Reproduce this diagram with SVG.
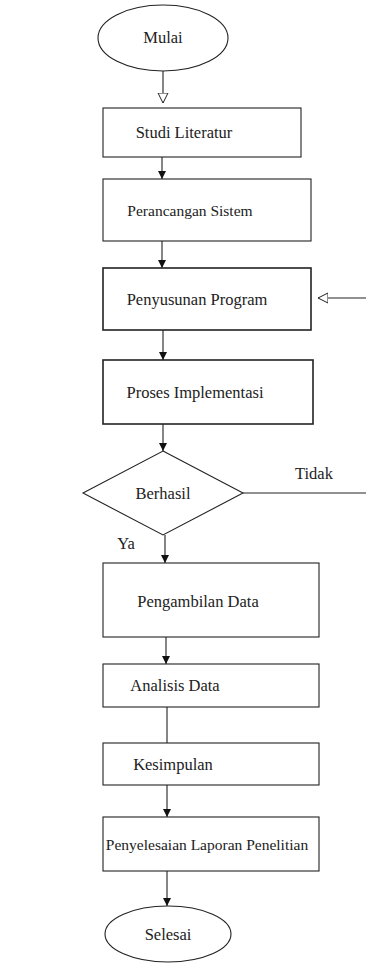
<svg xmlns="http://www.w3.org/2000/svg" width="366" height="965" viewBox="0 0 366 965">
<style>
.box{fill:#fff;stroke:#222;stroke-width:1.1}
.bold{stroke-width:1.6}
.t{font-family:"Liberation Serif","Times New Roman",serif;font-size:16.5px;fill:#222;text-anchor:middle}
.s{font-size:15.5px}
.ln{fill:none;stroke:#222;stroke-width:1.1}
</style>
<defs>
<marker id="a" markerWidth="10" markerHeight="10" refX="8" refY="5" orient="auto" markerUnits="userSpaceOnUse">
<path d="M0,1 L8,5 L0,9 Z" fill="#111"/>
</marker>
<marker id="h" markerWidth="12" markerHeight="12" refX="10" refY="6" orient="auto" markerUnits="userSpaceOnUse">
<path d="M0,1 L10,6 L0,11 Z" fill="#fff" stroke="#222" stroke-width="1"/>
</marker>
</defs>
<rect width="366" height="965" fill="#fff"/>
<g id="connectors">
<line class="ln" x1="163" y1="71" x2="163" y2="103" marker-end="url(#h)"/>
<line class="ln" x1="162" y1="157" x2="162" y2="179" marker-end="url(#a)"/>
<line class="ln" x1="162" y1="241" x2="162" y2="268" marker-end="url(#a)"/>
<line class="ln" x1="366" y1="298" x2="318" y2="298" marker-end="url(#h)"/>
<line class="ln" x1="163" y1="330" x2="163" y2="360" marker-end="url(#a)"/>
<line class="ln" x1="163" y1="424" x2="163" y2="451" marker-end="url(#a)"/>
<line class="ln" x1="243" y1="493" x2="366" y2="493"/>
<line class="ln" x1="165" y1="535" x2="165" y2="563" marker-end="url(#a)"/>
<line class="ln" x1="166" y1="637" x2="166" y2="664" marker-end="url(#a)"/>
<line class="ln" x1="167" y1="707" x2="167" y2="743"/>
<line class="ln" x1="167" y1="785" x2="167" y2="817" stroke-width="2" marker-end="url(#a)"/>
<line class="ln" x1="167" y1="871" x2="167" y2="906" marker-end="url(#a)"/>
<text class="t" x="314" y="479">Tidak</text>
<text class="t" x="126" y="549">Ya</text>
</g>
<g id="mulai">
<ellipse class="box" cx="163" cy="38" rx="65" ry="33"/>
<text class="t" x="163" y="43">Mulai</text>
</g>
<g id="studi">
<rect class="box" x="103" y="108" width="198" height="49"/>
<text class="t" x="184" y="138">Studi Literatur</text>
</g>
<g id="perancangan">
<rect class="box" x="103" y="179" width="208" height="62"/>
<text class="t s" x="190" y="216">Perancangan Sistem</text>
</g>
<g id="penyusunan">
<rect class="box bold" x="103" y="268" width="208" height="62"/>
<text class="t" x="197" y="305">Penyusunan Program</text>
</g>
<g id="proses">
<rect class="box bold" x="103" y="360" width="210" height="64"/>
<text class="t" x="195" y="398">Proses Implementasi</text>
</g>
<g id="berhasil">
<polygon class="box" points="163,451 243,493 163,535 83,493"/>
<text class="t" x="163" y="499">Berhasil</text>
</g>
<g id="pengambilan">
<rect class="box" x="103" y="563" width="216" height="74"/>
<text class="t" x="198" y="607">Pengambilan Data</text>
</g>
<g id="analisis">
<rect class="box" x="103" y="664" width="216" height="43"/>
<text class="t" x="175" y="691">Analisis Data</text>
</g>
<g id="kesimpulan">
<rect class="box" x="103" y="743" width="216" height="42"/>
<text class="t" x="173" y="770">Kesimpulan</text>
</g>
<g id="penyelesaian">
<rect class="box" x="103" y="817" width="216" height="54"/>
<text class="t s" x="207" y="850">Penyelesaian Laporan Penelitian</text>
</g>
<g id="selesai">
<ellipse class="box" cx="168" cy="934" rx="63" ry="28"/>
<text class="t" x="168" y="940">Selesai</text>
</g>
</svg>
